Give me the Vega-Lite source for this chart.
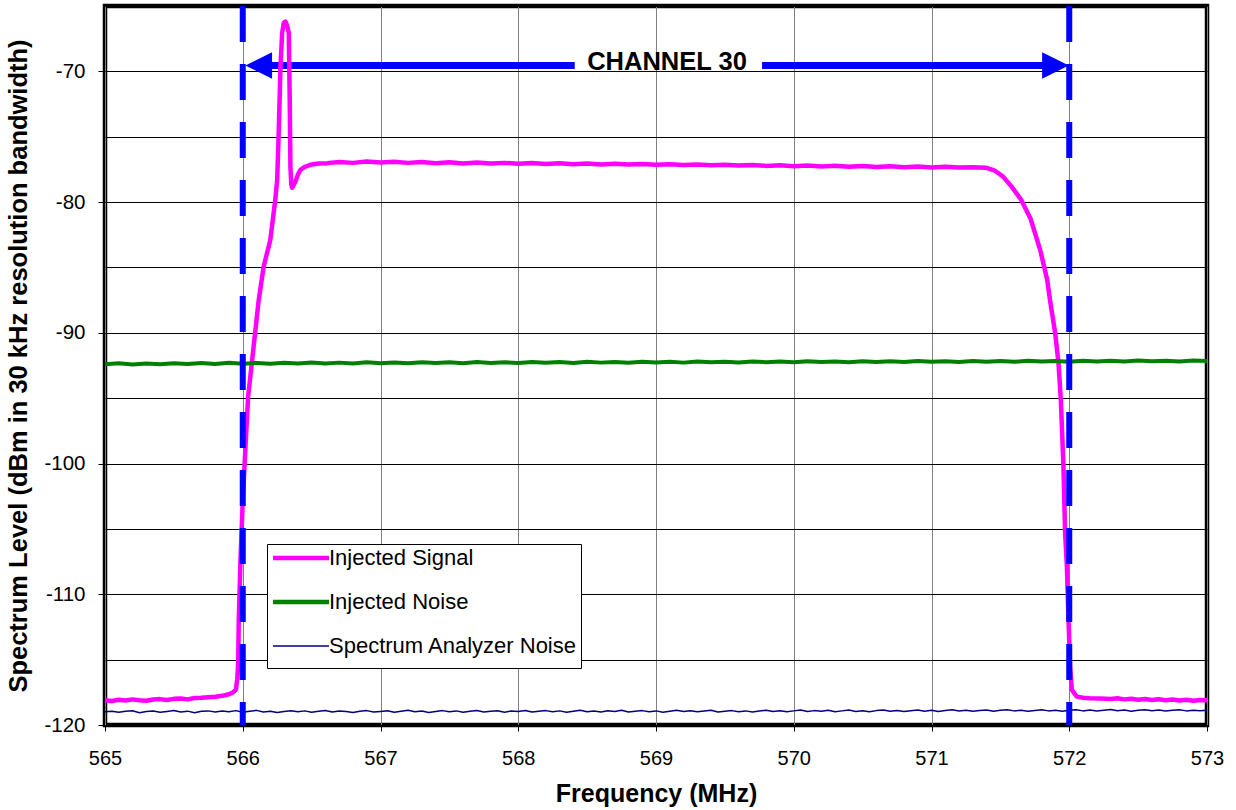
{
"$schema": "https://vega.github.io/schema/vega-lite/v6.json",
"width": 1102, "height": 719,
"autosize": {"type": "none"},
"padding": {"left": 105, "top": 6, "right": 29, "bottom": 85},
"background": "white",
"config": {"view": {"stroke": "black", "strokeWidth": 4.5}, "font": "Liberation Sans"},
"datasets": {
"signal": [
{"f":565.00,"v":-118.10},{"f":565.05,"v":-118.16},{"f":565.10,"v":-118.07},{"f":565.15,"v":-118.13},{"f":565.20,"v":-118.04},{"f":565.25,"v":-118.11},{"f":565.30,"v":-118.15},{"f":565.35,"v":-118.05},{"f":565.40,"v":-118.02},{"f":565.45,"v":-118.09},{"f":565.50,"v":-118.00},{"f":565.55,"v":-117.97},{"f":565.60,"v":-118.04},{"f":565.65,"v":-117.94},{"f":565.70,"v":-117.92},{"f":565.75,"v":-117.87},{"f":565.80,"v":-117.84},{"f":565.85,"v":-117.77},{"f":565.90,"v":-117.65},{"f":565.93,"v":-117.5},{"f":565.95,"v":-117.3},{"f":565.96,"v":-116.5},{"f":565.967,"v":-115.26},{"f":565.971,"v":-111.97},{"f":565.983,"v":-107.6},{"f":566.0,"v":-102.8},{"f":566.02,"v":-98.7},{"f":566.039,"v":-94.88},{"f":566.063,"v":-92.59},{"f":566.092,"v":-89.78},{"f":566.116,"v":-87.48},{"f":566.152,"v":-84.93},{"f":566.2,"v":-82.9},{"f":566.236,"v":-79.83},{"f":566.25,"v":-78.3},{"f":566.261,"v":-74.7},{"f":566.274,"v":-69.63},{"f":566.286,"v":-67.05},{"f":566.298,"v":-66.3},{"f":566.31,"v":-66.19},{"f":566.322,"v":-66.5},{"f":566.334,"v":-67.05},{"f":566.341,"v":-72.17},{"f":566.346,"v":-77.28},{"f":566.352,"v":-78.6},{"f":566.358,"v":-78.91},{"f":566.38,"v":-78.5},{"f":566.40,"v":-77.9},{"f":566.419,"v":-77.53},{"f":566.45,"v":-77.3},{"f":566.491,"v":-77.15},{"f":566.55,"v":-77.05},{"f":566.613,"v":-77.02},{"f":566.7,"v":-76.93},{"f":566.8,"v":-77.0},{"f":566.9,"v":-76.9},{"f":567.0,"v":-76.97},{"f":567.1,"v":-76.92},{"f":567.2,"v":-77.0},{"f":567.3,"v":-76.94},{"f":567.4,"v":-77.02},{"f":567.5,"v":-76.96},{"f":567.6,"v":-77.04},{"f":567.7,"v":-76.98},{"f":567.8,"v":-77.05},{"f":567.9,"v":-77.0},{"f":568.0,"v":-77.06},{"f":568.1,"v":-77.01},{"f":568.2,"v":-77.08},{"f":568.3,"v":-77.03},{"f":568.4,"v":-77.1},{"f":568.5,"v":-77.05},{"f":568.6,"v":-77.12},{"f":568.7,"v":-77.07},{"f":568.8,"v":-77.13},{"f":568.9,"v":-77.08},{"f":569.0,"v":-77.15},{"f":569.1,"v":-77.1},{"f":569.2,"v":-77.17},{"f":569.3,"v":-77.12},{"f":569.4,"v":-77.18},{"f":569.5,"v":-77.14},{"f":569.6,"v":-77.2},{"f":569.7,"v":-77.16},{"f":569.8,"v":-77.23},{"f":569.9,"v":-77.18},{"f":570.0,"v":-77.25},{"f":570.1,"v":-77.2},{"f":570.2,"v":-77.27},{"f":570.3,"v":-77.22},{"f":570.4,"v":-77.29},{"f":570.5,"v":-77.24},{"f":570.6,"v":-77.31},{"f":570.7,"v":-77.26},{"f":570.8,"v":-77.33},{"f":570.9,"v":-77.28},{"f":571.0,"v":-77.35},{"f":571.1,"v":-77.3},{"f":571.2,"v":-77.36},{"f":571.3,"v":-77.33},{"f":571.4,"v":-77.38},{"f":571.46,"v":-77.6},{"f":571.52,"v":-78.05},{"f":571.58,"v":-78.8},{"f":571.65,"v":-79.8},{"f":571.72,"v":-81.3},{"f":571.79,"v":-83.7},{"f":571.84,"v":-85.95},{"f":571.86,"v":-87.48},{"f":571.898,"v":-90.03},{"f":571.922,"v":-92.33},{"f":571.939,"v":-95.13},{"f":571.958,"v":-100.24},{"f":571.970,"v":-105.33},{"f":571.983,"v":-107.89},{"f":571.994,"v":-111.71},{"f":572.006,"v":-115.54},{"f":572.019,"v":-117.32},{"f":572.055,"v":-117.83},{"f":572.1,"v":-117.91},{"f":572.15,"v":-117.95},{"f":572.224,"v":-117.97},{"f":572.3,"v":-118.01},{"f":572.35,"v":-117.96},{"f":572.4,"v":-118.04},{"f":572.45,"v":-117.99},{"f":572.5,"v":-118.07},{"f":572.55,"v":-118.01},{"f":572.6,"v":-118.09},{"f":572.65,"v":-118.03},{"f":572.7,"v":-118.11},{"f":572.75,"v":-118.05},{"f":572.8,"v":-118.13},{"f":572.85,"v":-118.07},{"f":572.9,"v":-118.14},{"f":572.95,"v":-118.08},{"f":573.0,"v":-118.1}
],
"noise": [
{"f":565.0,"v":-92.40},{"f":565.1,"v":-92.33},{"f":565.2,"v":-92.43},{"f":565.3,"v":-92.35},{"f":565.4,"v":-92.41},{"f":565.5,"v":-92.32},{"f":565.6,"v":-92.39},{"f":565.7,"v":-92.31},{"f":565.8,"v":-92.38},{"f":565.9,"v":-92.29},{"f":566.0,"v":-92.36},{"f":566.1,"v":-92.30},{"f":566.2,"v":-92.37},{"f":566.3,"v":-92.29},{"f":566.4,"v":-92.35},{"f":566.5,"v":-92.27},{"f":566.6,"v":-92.34},{"f":566.7,"v":-92.28},{"f":566.8,"v":-92.34},{"f":566.9,"v":-92.26},{"f":567.0,"v":-92.33},{"f":567.1,"v":-92.27},{"f":567.2,"v":-92.32},{"f":567.3,"v":-92.25},{"f":567.4,"v":-92.31},{"f":567.5,"v":-92.26},{"f":567.6,"v":-92.32},{"f":567.7,"v":-92.24},{"f":567.8,"v":-92.30},{"f":567.9,"v":-92.25},{"f":568.0,"v":-92.31},{"f":568.1,"v":-92.23},{"f":568.2,"v":-92.29},{"f":568.3,"v":-92.24},{"f":568.4,"v":-92.30},{"f":568.5,"v":-92.22},{"f":568.6,"v":-92.28},{"f":568.7,"v":-92.23},{"f":568.8,"v":-92.29},{"f":568.9,"v":-92.21},{"f":569.0,"v":-92.27},{"f":569.1,"v":-92.22},{"f":569.2,"v":-92.28},{"f":569.3,"v":-92.20},{"f":569.4,"v":-92.26},{"f":569.5,"v":-92.21},{"f":569.6,"v":-92.27},{"f":569.7,"v":-92.19},{"f":569.8,"v":-92.25},{"f":569.9,"v":-92.20},{"f":570.0,"v":-92.26},{"f":570.1,"v":-92.18},{"f":570.2,"v":-92.24},{"f":570.3,"v":-92.19},{"f":570.4,"v":-92.25},{"f":570.5,"v":-92.17},{"f":570.6,"v":-92.23},{"f":570.7,"v":-92.18},{"f":570.8,"v":-92.24},{"f":570.9,"v":-92.16},{"f":571.0,"v":-92.22},{"f":571.1,"v":-92.17},{"f":571.2,"v":-92.23},{"f":571.3,"v":-92.15},{"f":571.4,"v":-92.21},{"f":571.5,"v":-92.16},{"f":571.6,"v":-92.22},{"f":571.7,"v":-92.14},{"f":571.8,"v":-92.20},{"f":571.9,"v":-92.15},{"f":572.0,"v":-92.21},{"f":572.1,"v":-92.13},{"f":572.2,"v":-92.19},{"f":572.3,"v":-92.14},{"f":572.4,"v":-92.20},{"f":572.5,"v":-92.12},{"f":572.6,"v":-92.18},{"f":572.7,"v":-92.13},{"f":572.8,"v":-92.19},{"f":572.9,"v":-92.11},{"f":573.0,"v":-92.16}
],
"analyzer": [
{"f":565.00,"v":-118.98},{"f":565.05,"v":-118.94},{"f":565.10,"v":-119.03},{"f":565.15,"v":-118.95},{"f":565.20,"v":-118.91},{"f":565.25,"v":-119.06},{"f":565.30,"v":-118.97},{"f":565.35,"v":-118.93},{"f":565.40,"v":-119.02},{"f":565.45,"v":-118.96},{"f":565.50,"v":-118.89},{"f":565.55,"v":-119.01},{"f":565.60,"v":-118.94},{"f":565.65,"v":-119.07},{"f":565.70,"v":-118.95},{"f":565.75,"v":-118.92},{"f":565.80,"v":-119.00},{"f":565.85,"v":-118.93},{"f":565.90,"v":-118.99},{"f":565.95,"v":-118.90},{"f":566.00,"v":-119.02},{"f":566.05,"v":-118.95},{"f":566.10,"v":-118.88},{"f":566.15,"v":-119.00},{"f":566.20,"v":-118.94},{"f":566.25,"v":-119.04},{"f":566.30,"v":-118.96},{"f":566.35,"v":-118.91},{"f":566.40,"v":-118.99},{"f":566.45,"v":-118.92},{"f":566.50,"v":-119.03},{"f":566.55,"v":-118.95},{"f":566.60,"v":-118.89},{"f":566.65,"v":-119.00},{"f":566.70,"v":-118.93},{"f":566.75,"v":-118.97},{"f":566.80,"v":-119.05},{"f":566.85,"v":-118.94},{"f":566.90,"v":-118.90},{"f":566.95,"v":-119.01},{"f":567.00,"v":-118.96},{"f":567.05,"v":-118.91},{"f":567.10,"v":-119.02},{"f":567.15,"v":-118.95},{"f":567.20,"v":-118.88},{"f":567.25,"v":-118.99},{"f":567.30,"v":-118.93},{"f":567.35,"v":-119.04},{"f":567.40,"v":-118.96},{"f":567.45,"v":-118.90},{"f":567.50,"v":-118.98},{"f":567.55,"v":-118.92},{"f":567.60,"v":-119.03},{"f":567.65,"v":-118.94},{"f":567.70,"v":-118.89},{"f":567.75,"v":-119.00},{"f":567.80,"v":-118.95},{"f":567.85,"v":-118.91},{"f":567.90,"v":-119.02},{"f":567.95,"v":-118.93},{"f":568.00,"v":-118.97},{"f":568.05,"v":-118.89},{"f":568.10,"v":-119.01},{"f":568.15,"v":-118.94},{"f":568.20,"v":-118.90},{"f":568.25,"v":-118.99},{"f":568.30,"v":-118.92},{"f":568.35,"v":-119.03},{"f":568.40,"v":-118.95},{"f":568.45,"v":-118.88},{"f":568.50,"v":-118.98},{"f":568.55,"v":-118.93},{"f":568.60,"v":-119.00},{"f":568.65,"v":-118.91},{"f":568.70,"v":-118.96},{"f":568.75,"v":-118.87},{"f":568.80,"v":-119.01},{"f":568.85,"v":-118.94},{"f":568.90,"v":-118.90},{"f":568.95,"v":-118.98},{"f":569.00,"v":-118.92},{"f":569.05,"v":-119.02},{"f":569.10,"v":-118.94},{"f":569.15,"v":-118.88},{"f":569.20,"v":-118.97},{"f":569.25,"v":-118.91},{"f":569.30,"v":-118.99},{"f":569.35,"v":-118.93},{"f":569.40,"v":-118.87},{"f":569.45,"v":-119.00},{"f":569.50,"v":-118.94},{"f":569.55,"v":-118.90},{"f":569.60,"v":-118.98},{"f":569.65,"v":-118.92},{"f":569.70,"v":-119.01},{"f":569.75,"v":-118.93},{"f":569.80,"v":-118.88},{"f":569.85,"v":-118.96},{"f":569.90,"v":-118.91},{"f":569.95,"v":-118.99},{"f":570.00,"v":-118.92},{"f":570.05,"v":-118.86},{"f":570.10,"v":-118.97},{"f":570.15,"v":-118.90},{"f":570.20,"v":-118.95},{"f":570.25,"v":-118.88},{"f":570.30,"v":-118.99},{"f":570.35,"v":-118.92},{"f":570.40,"v":-118.86},{"f":570.45,"v":-118.96},{"f":570.50,"v":-118.91},{"f":570.55,"v":-118.98},{"f":570.60,"v":-118.90},{"f":570.65,"v":-118.85},{"f":570.70,"v":-118.95},{"f":570.75,"v":-118.89},{"f":570.80,"v":-118.97},{"f":570.85,"v":-118.91},{"f":570.90,"v":-118.86},{"f":570.95,"v":-118.94},{"f":571.00,"v":-118.88},{"f":571.05,"v":-118.96},{"f":571.10,"v":-118.90},{"f":571.15,"v":-118.84},{"f":571.20,"v":-118.93},{"f":571.25,"v":-118.88},{"f":571.30,"v":-118.95},{"f":571.35,"v":-118.89},{"f":571.40,"v":-118.85},{"f":571.45,"v":-118.94},{"f":571.50,"v":-118.88},{"f":571.55,"v":-118.83},{"f":571.60,"v":-118.92},{"f":571.65,"v":-118.87},{"f":571.70,"v":-118.95},{"f":571.75,"v":-118.89},{"f":571.80,"v":-118.84},{"f":571.85,"v":-118.92},{"f":571.90,"v":-118.87},{"f":571.95,"v":-118.94},{"f":572.00,"v":-118.88},{"f":572.05,"v":-118.83},{"f":572.10,"v":-118.92},{"f":572.15,"v":-118.86},{"f":572.20,"v":-118.93},{"f":572.25,"v":-118.87},{"f":572.30,"v":-118.82},{"f":572.35,"v":-118.91},{"f":572.40,"v":-118.86},{"f":572.45,"v":-118.94},{"f":572.50,"v":-118.88},{"f":572.55,"v":-118.83},{"f":572.60,"v":-118.91},{"f":572.65,"v":-118.86},{"f":572.70,"v":-118.93},{"f":572.75,"v":-118.87},{"f":572.80,"v":-118.84},{"f":572.85,"v":-118.92},{"f":572.90,"v":-118.87},{"f":572.95,"v":-118.91},{"f":573.00,"v":-118.88}
],
"arrowline": [{"f1":566.15,"f2":568.41,"v":-69.55},{"f1":569.77,"f2":571.86,"v":-69.55}],
"leftHead": [{"f":566.116,"v":-69.55}],
"rightHead": [{"f":571.9,"v":-69.55}],
"channel": [{"f":566},{"f":572}],
"label": [{"f":569.08,"v":-69.3,"t":"CHANNEL 30"}]
},
"layer": [
{"data":{"name":"arrowline"},"mark":{"type":"rule","color":"#0000FF","strokeWidth":7,"strokeCap":"butt"},
 "encoding":{"x":{"field":"f1","type":"quantitative"},"x2":{"field":"f2"},"y":{"field":"v","type":"quantitative"}}},
{"data":{"name":"leftHead"},"mark":{"type":"point","shape":"M-1,0L1,-1L1,1Z","filled":true,"color":"#0000FF","size":713,"opacity":1,"strokeWidth":0},
 "encoding":{"x":{"field":"f","type":"quantitative"},"y":{"field":"v","type":"quantitative"}}},
{"data":{"name":"rightHead"},"mark":{"type":"point","shape":"M1,0L-1,-1L-1,1Z","filled":true,"color":"#0000FF","size":713,"opacity":1,"strokeWidth":0},
 "encoding":{"x":{"field":"f","type":"quantitative"},"y":{"field":"v","type":"quantitative"}}},
{"data":{"name":"signal"},"mark":{"type":"line","strokeWidth":4.5,"strokeJoin":"round"},
 "encoding":{
  "x":{"field":"f","type":"quantitative","scale":{"domain":[565,573],"nice":false,"zero":false},
   "axis":{"values":[565,566,567,568,569,570,571,572,573],"format":"d","title":"Frequency (MHz)","grid":true,"gridColor":"#808080","gridWidth":1,"gridOpacity":1,"domain":false,"ticks":true,"tickColor":"#000","tickSize":6,"tickWidth":1,"labelFontSize":20,"labelColor":"#000","labelPadding":17,"labelFlush":false,"labelOverlap":false,"titleFontSize":25,"titleFontWeight":"bold","titleColor":"#000","titlePadding":13}},
  "y":{"field":"v","type":"quantitative","scale":{"domain":[-120,-65],"nice":false,"zero":false},
   "axis":{"values":[-120,-115,-110,-105,-100,-95,-90,-85,-80,-75,-70,-65],"title":"Spectrum Level (dBm in 30 kHz resolution bandwidth)","grid":true,"gridColor":"#000","gridWidth":1,"gridOpacity":1,"domain":false,"tickColor":"#000","tickSize":7,"tickWidth":1,"tickOpacity":{"condition":{"test":"datum.value % 10 === 0","value":1},"value":0},"labelExpr":"datum.value % 10 === 0 ? '' + datum.value : ''","labelFontSize":20.5,"labelColor":"#000","labelPadding":13,"labelOverlap":false,"titleFontSize":25.5,"titleFontWeight":"bold","titleColor":"#000","titlePadding":12}},
  "color":{"datum":"Injected Signal","type":"nominal","scale":{"domain":["Injected Signal","Injected Noise","Spectrum Analyzer Noise"],"range":["#FF00FF","#008000","#000080"]},
   "legend":{"orient":"none","legendX":162,"legendY":538,"title":" ","titleOrient":"bottom","titleFontSize":8,"titlePadding":0,"padding":3,"strokeColor":"#000","fillColor":"#fff","labelFontSize":22,"labelColor":"#000","labelFont":"Liberation Sans","labelLimit":500,"symbolType":"M-2.8,0H2.8","symbolSize":400,"symbolStrokeWidth":4.5,"symbolOffset":20,"labelOffset":17,"rowPadding":22,"cornerRadius":0,
    "encode":{"symbols":{"update":{"strokeWidth":{"signal":"datum.value === 'Spectrum Analyzer Noise' ? 1.5 : 4.5"}}}}}}
 }},
{"data":{"name":"noise"},"mark":{"type":"line","strokeWidth":4,"strokeJoin":"round"},
 "encoding":{"x":{"field":"f","type":"quantitative"},"y":{"field":"v","type":"quantitative"},"color":{"datum":"Injected Noise","type":"nominal"}}},
{"data":{"name":"analyzer"},"mark":{"type":"line","strokeWidth":1.5,"strokeJoin":"round"},
 "encoding":{"x":{"field":"f","type":"quantitative"},"y":{"field":"v","type":"quantitative"},"color":{"datum":"Spectrum Analyzer Noise","type":"nominal"}}},
{"data":{"name":"channel"},"mark":{"type":"rule","color":"#0000FF","strokeWidth":6,"strokeDash":[36,22],"strokeCap":"butt"},
 "encoding":{"x":{"field":"f","type":"quantitative"}}},
{"data":{"name":"label"},"mark":{"type":"text","font":"Liberation Sans","fontWeight":"bold","fontSize":25.5,"color":"#000","align":"center","baseline":"middle"},
 "encoding":{"x":{"field":"f","type":"quantitative"},"y":{"field":"v","type":"quantitative"},"text":{"field":"t"}}}
]
}
